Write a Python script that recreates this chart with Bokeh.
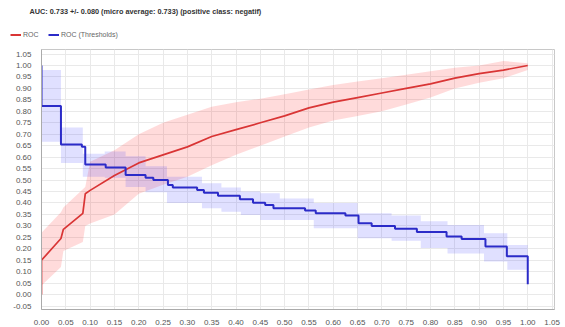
from bokeh.plotting import figure
from bokeh.layouts import column
from bokeh.models import Range1d, FixedTicker, NumeralTickFormatter, Legend, LegendItem, Label
from bokeh.embed import file_html
from bokeh.resources import INLINE

title_text = "AUC: 0.733 +/- 0.080 (micro average: 0.733) (positive class: negatif)"
series_names = ["ROC", "ROC (Thresholds)"]

# ROC mean curve and its band
roc_fpr = [0.0, 0.0, 0.04, 0.045, 0.085, 0.09, 0.10, 0.15, 0.20, 0.25, 0.30, 0.35, 0.40, 0.45,
           0.50, 0.55, 0.60, 0.65, 0.70, 0.75, 0.80, 0.85, 0.90, 0.95, 1.0]
roc_tpr = [0.0, 0.15, 0.245, 0.285, 0.355, 0.44, 0.455, 0.52, 0.575, 0.61, 0.645, 0.69, 0.72, 0.75,
           0.78, 0.815, 0.84, 0.86, 0.88, 0.90, 0.92, 0.945, 0.965, 0.98, 1.0]
roc_upper = [0.27, 0.27, 0.36, 0.38, 0.46, 0.47, 0.58, 0.63, 0.70, 0.75, 0.785, 0.82, 0.84, 0.855,
             0.875, 0.895, 0.915, 0.93, 0.945, 0.96, 0.975, 0.99, 1.0, 1.02, 1.01]
roc_lower = [0.0, 0.04, 0.12, 0.19, 0.23, 0.30, 0.31, 0.35, 0.44, 0.48, 0.515, 0.565, 0.61, 0.65,
             0.69, 0.73, 0.76, 0.78, 0.80, 0.83, 0.86, 0.90, 0.925, 0.945, 0.98]

# Thresholds step curve
thr_x = [0.0, 0.0, 0.04, 0.083, 0.09, 0.132, 0.173, 0.214, 0.23, 0.26, 0.27, 0.32, 0.334, 0.363,
         0.408, 0.435, 0.46, 0.477, 0.542, 0.564, 0.625, 0.652, 0.679, 0.727, 0.772, 0.833, 0.864,
         0.913, 0.957, 1.0, 1.0]
thr_y = [1.0, 0.823, 0.655, 0.645, 0.568, 0.555, 0.522, 0.51, 0.50, 0.478, 0.468, 0.457, 0.445, 0.432,
         0.416, 0.401, 0.391, 0.377, 0.367, 0.355, 0.345, 0.312, 0.30, 0.287, 0.273, 0.254, 0.243,
         0.21, 0.167, 0.167, 0.045]

# Thresholds band (step)
thr_band_x = [0.0, 0.04, 0.085, 0.13, 0.173, 0.214, 0.258, 0.33, 0.37, 0.41, 0.45, 0.49, 0.56,
              0.65, 0.72, 0.78, 0.835, 0.91, 0.958, 1.0]
thr_band_lo = [0.667, 0.575, 0.515, 0.51, 0.47, 0.447, 0.40, 0.377, 0.362, 0.348, 0.326, 0.326, 0.29,
               0.246, 0.235, 0.203, 0.18, 0.145, 0.109, 0.109]
thr_band_hi = [0.98, 0.73, 0.615, 0.625, 0.604, 0.56, 0.515, 0.486, 0.468, 0.45, 0.442, 0.42, 0.40,
               0.355, 0.345, 0.32, 0.304, 0.268, 0.217, 0.217]

x_ticks = [0.00, 0.05, 0.10, 0.15, 0.20, 0.25, 0.30, 0.35, 0.40, 0.45, 0.50, 0.55, 0.60, 0.65,
           0.70, 0.75, 0.80, 0.85, 0.90, 0.95, 1.00, 1.05]
y_ticks = [-0.05, 0.00, 0.05, 0.10, 0.15, 0.20, 0.25, 0.30, 0.35, 0.40, 0.45, 0.50, 0.55, 0.60,
           0.65, 0.70, 0.75, 0.80, 0.85, 0.90, 0.95, 1.00, 1.05]

FONT = "Liberation Sans"
RED = "#d93535"
BLUE = "#2b2bc8"

# ---- header figure: title + legend (its ranges keep the series out of view) ----
head = figure(width=565, height=44, output_backend="svg", toolbar_location=None,
              x_range=Range1d(5, 6), y_range=Range1d(5, 6),
              x_axis_location=None, y_axis_location=None,
              min_border_left=0, min_border_right=0, min_border_top=0, min_border_bottom=0)
head.frame_align = False
head.grid.visible = False
head.outline_line_color = None

head.add_layout(Label(x=29, y=33, x_units="screen", y_units="screen", text=title_text,
                      text_font=FONT, text_font_size="7.3px", text_font_style="bold",
                      text_color="#333333", text_baseline="middle", text_align="left"))

lg_roc = head.line(roc_fpr, roc_tpr, line_color=RED, line_width=2)
lg_thr = head.line(thr_x, thr_y, line_color=BLUE, line_width=2)
legend = Legend(items=[LegendItem(label=series_names[0], renderers=[lg_roc]),
                       LegendItem(label=series_names[1], renderers=[lg_thr])],
                orientation="horizontal", location=(10, 5),
                label_text_font=FONT, label_text_font_size="7px", label_text_color="#666666",
                glyph_width=11, glyph_height=9, label_height=9, label_standoff=2, spacing=5,
                padding=0, margin=0, border_line_alpha=0, background_fill_alpha=0)
head.add_layout(legend)

# ---- main plot ----
p = figure(width=565, height=283, output_backend="svg", toolbar_location=None,
           x_range=Range1d(0, 1.055), y_range=Range1d(-0.065, 1.07),
           min_border_left=41, min_border_right=11, min_border_top=5, min_border_bottom=17)
p.frame_align = False

p.varea(x=roc_fpr, y1=roc_lower, y2=roc_upper, fill_color="#ff2020", fill_alpha=0.16)
p.varea_step(x=thr_band_x, y1=thr_band_lo, y2=thr_band_hi, step_mode="after",
             fill_color="#2020ff", fill_alpha=0.14)
p.line(roc_fpr, roc_tpr, line_color=RED, line_width=1.7)
p.step(thr_x, thr_y, mode="after", line_color=BLUE, line_width=2)

p.xaxis.ticker = FixedTicker(ticks=x_ticks)
p.yaxis.ticker = FixedTicker(ticks=y_ticks)
p.xaxis.formatter = NumeralTickFormatter(format="0.00")
p.yaxis.formatter = NumeralTickFormatter(format="0.00")
for ax in (p.xaxis, p.yaxis):
    ax.major_label_text_font = FONT
    ax.major_label_text_font_size = "8px"
    ax.major_label_text_color = "#555555"
    ax.major_tick_line_color = None
    ax.minor_tick_line_color = None
    ax.axis_line_color = "#aaaaaa"
    ax.major_label_standoff = 4

p.grid.grid_line_color = "#e9e9e9"
p.outline_line_color = "#c8c8c8"
p.xgrid.ticker = FixedTicker(ticks=x_ticks)
p.ygrid.ticker = FixedTicker(ticks=y_ticks)

layout = column(head, p, spacing=0)
open("out.html", "w").write(file_html(layout, INLINE))
